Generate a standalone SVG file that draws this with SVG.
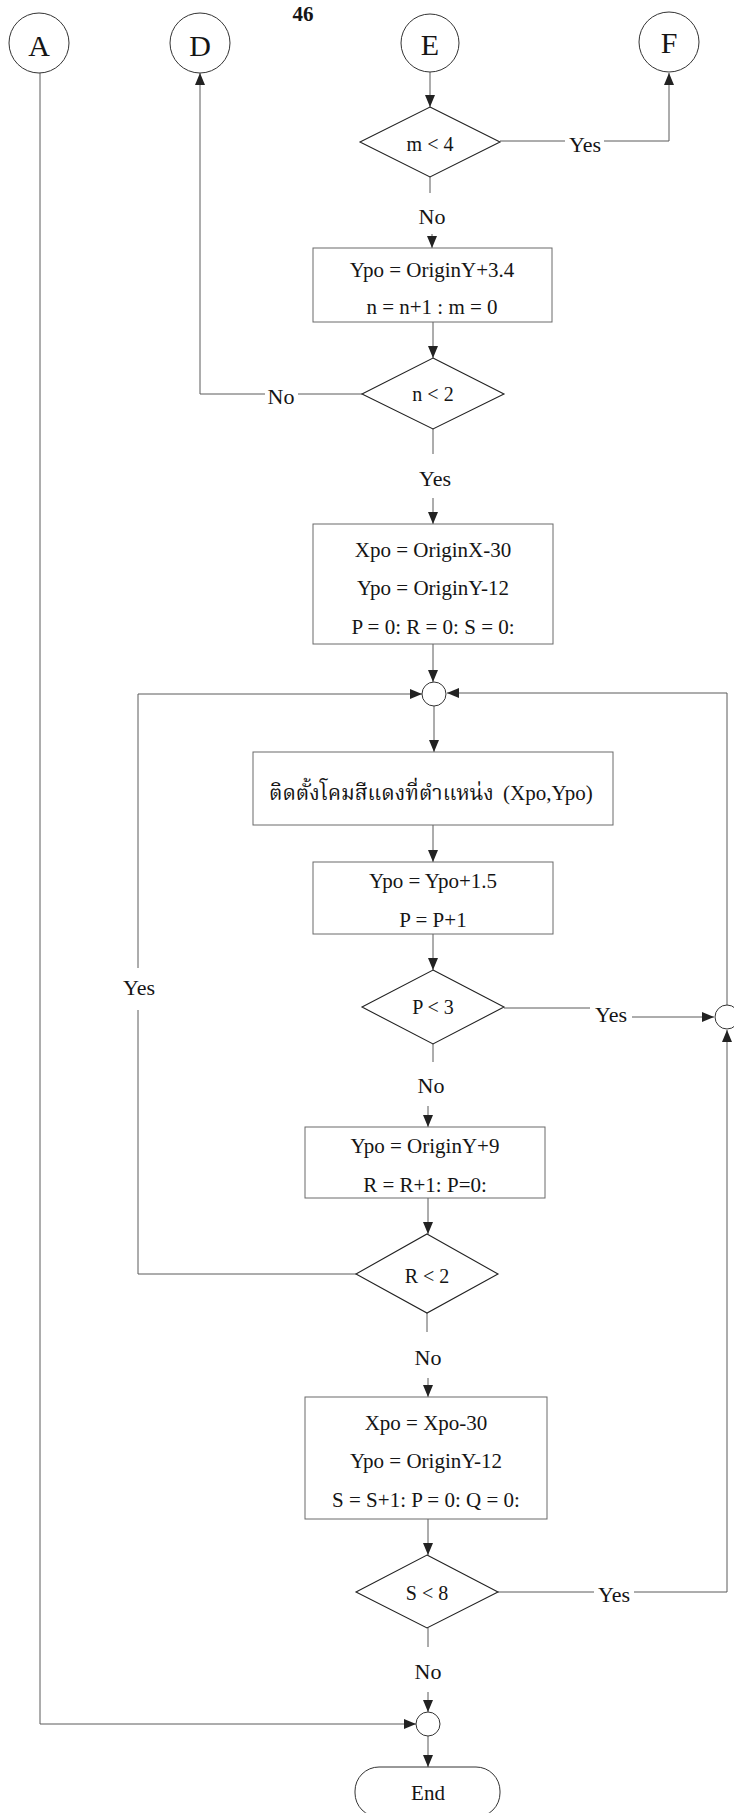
<svg xmlns="http://www.w3.org/2000/svg" width="734" height="1813" viewBox="0 0 734 1813">
  <style>
    text { font-family: "Liberation Serif", "Times New Roman", serif; fill: #151515; }
    .t { font-size: 21px; text-anchor: middle; }
    .q { font-size: 20px; text-anchor: middle; }
    .lbl { font-size: 22px; text-anchor: middle; }
    .conn { font-size: 30px; text-anchor: middle; }
    .pg { font-family: "Liberation Serif", serif; font-size: 21px; font-weight: bold; text-anchor: middle; }
    .th { font-family: "Liberation Serif", "Noto Serif Thai", "Noto Sans Thai", "Tlwg Typo", "Loma", "Garuda", serif; font-size: 21px; }
    .box { fill: #ffffff; stroke: #6a6a6a; stroke-width: 1; }
    .dec { fill: #ffffff; stroke: #222; stroke-width: 1.1; }
    .circ { fill: #ffffff; stroke: #333; stroke-width: 1; }
    .edge { fill: none; stroke: #5a5a5a; stroke-width: 1; }
  </style>
  <defs>
    <marker id="arrow" markerUnits="userSpaceOnUse" markerWidth="12" markerHeight="10" refX="12" refY="5" orient="auto">
      <path d="M0,0 L12,5 L0,10 z" fill="#222"/>
    </marker>
  </defs>

  <rect width="734" height="1813" fill="#ffffff"/>

  <!-- page number -->
  <text class="pg" x="303" y="21">46</text>

  <!-- connectors -->
  <g id="connectors">
    <!-- E to m<4 -->
    <path class="edge" d="M430,72 L430,107" marker-end="url(#arrow)"/>
    <!-- m<4 Yes to F -->
    <path class="edge" d="M500,141 L565,141"/>
    <path class="edge" d="M604,141 L669,141 L669,73" marker-end="url(#arrow)"/>
    <!-- m<4 No -->
    <path class="edge" d="M430,177 L430,193"/>
    <path class="edge" d="M432,234 L432,248" marker-end="url(#arrow)"/>
    <!-- box1 to n<2 -->
    <path class="edge" d="M433,322 L433,358" marker-end="url(#arrow)"/>
    <!-- n<2 No to D -->
    <path class="edge" d="M362,394 L298,394"/>
    <path class="edge" d="M265,394 L200,394 L200,73" marker-end="url(#arrow)"/>
    <!-- n<2 Yes -->
    <path class="edge" d="M433,429 L433,454"/>
    <path class="edge" d="M433,498 L433,524" marker-end="url(#arrow)"/>
    <!-- box2 to J1 -->
    <path class="edge" d="M433,644 L433,682" marker-end="url(#arrow)"/>
    <!-- J1 to box3 -->
    <path class="edge" d="M434,706 L434,752" marker-end="url(#arrow)"/>
    <!-- box3 to box4 -->
    <path class="edge" d="M433,825 L433,862" marker-end="url(#arrow)"/>
    <!-- box4 to P<3 -->
    <path class="edge" d="M433,934 L433,970" marker-end="url(#arrow)"/>
    <!-- P<3 Yes to J2 -->
    <path class="edge" d="M504,1008 L590,1008"/>
    <path class="edge" d="M632,1017 L714,1017" marker-end="url(#arrow)"/>
    <!-- P<3 No -->
    <path class="edge" d="M433,1044 L433,1062"/>
    <path class="edge" d="M428,1106 L428,1127" marker-end="url(#arrow)"/>
    <!-- box5 to R<2 -->
    <path class="edge" d="M428,1198 L428,1234" marker-end="url(#arrow)"/>
    <!-- R<2 Yes back to J1 -->
    <path class="edge" d="M356,1274 L138,1274 L138,1010"/>
    <path class="edge" d="M138,968 L138,694 L422,694" marker-end="url(#arrow)"/>
    <!-- R<2 No -->
    <path class="edge" d="M427,1313 L427,1332"/>
    <path class="edge" d="M428,1378 L428,1397" marker-end="url(#arrow)"/>
    <!-- box6 to S<8 -->
    <path class="edge" d="M428,1519 L428,1555" marker-end="url(#arrow)"/>
    <!-- S<8 Yes up to J2 -->
    <path class="edge" d="M498,1592 L594,1592"/>
    <path class="edge" d="M634,1592 L727,1592 L727,1030" marker-end="url(#arrow)"/>
    <!-- J2 back to J1 -->
    <path class="edge" d="M727,1005 L727,693 L447,693" marker-end="url(#arrow)"/>
    <!-- S<8 No -->
    <path class="edge" d="M428,1628 L428,1647"/>
    <path class="edge" d="M428,1692 L428,1712" marker-end="url(#arrow)"/>
    <!-- A to J3 -->
    <path class="edge" d="M40,73 L40,1724 L416,1724" marker-end="url(#arrow)"/>
    <!-- J3 to End -->
    <path class="edge" d="M428,1736 L428,1767" marker-end="url(#arrow)"/>
  </g>

  <!-- connector labels -->
  <g id="labels">
    <text class="lbl" x="585" y="152">Yes</text>
    <text class="lbl" x="432" y="224">No</text>
    <text class="lbl" x="281" y="404">No</text>
    <text class="lbl" x="435" y="486">Yes</text>
    <text class="lbl" x="611" y="1022">Yes</text>
    <text class="lbl" x="431" y="1093">No</text>
    <text class="lbl" x="139" y="995">Yes</text>
    <text class="lbl" x="428" y="1365">No</text>
    <text class="lbl" x="614" y="1602">Yes</text>
    <text class="lbl" x="428" y="1679">No</text>
  </g>

  <!-- off-page connectors -->
  <g id="node-A">
    <circle class="circ" cx="39" cy="43" r="30"/>
    <text class="conn" x="39" y="56">A</text>
  </g>
  <g id="node-D">
    <circle class="circ" cx="200" cy="43" r="30"/>
    <text class="conn" x="200" y="56">D</text>
  </g>
  <g id="node-E">
    <circle class="circ" cx="430" cy="43" r="29"/>
    <text class="conn" x="430" y="55">E</text>
  </g>
  <g id="node-F">
    <circle class="circ" cx="669" cy="42" r="30"/>
    <text class="conn" x="669" y="53">F</text>
  </g>

  <!-- decision m<4 -->
  <g id="dec-m4">
    <polygon class="dec" points="430,107 500,142 430,177 360,142"/>
    <text class="q" x="430" y="151">m &lt; 4</text>
  </g>

  <!-- process: Ypo/n/m -->
  <g id="box-1">
    <rect class="box" x="313" y="248" width="239" height="74"/>
    <text class="t" x="432" y="277">Ypo = OriginY+3.4</text>
    <text class="t" x="432" y="314">n = n+1 : m = 0</text>
  </g>

  <!-- decision n<2 -->
  <g id="dec-n2">
    <polygon class="dec" points="433,358 504,394 433,429 362,394"/>
    <text class="q" x="433" y="401">n &lt; 2</text>
  </g>

  <!-- initialisation -->
  <g id="box-2">
    <rect class="box" x="313" y="524" width="240" height="120"/>
    <text class="t" x="433" y="557">Xpo = OriginX-30</text>
    <text class="t" x="433" y="595">Ypo = OriginY-12</text>
    <text class="t" x="433" y="634">P = 0: R = 0: S = 0:</text>
  </g>

  <!-- junction J1 -->
  <g id="junction-1">
    <circle class="circ" cx="434" cy="694" r="12"/>
  </g>

  <!-- install red lamp -->
  <g id="box-3">
    <rect class="box" x="253" y="752" width="360" height="73"/>
    <text class="th" x="269" y="800">ติดตั้งโคมสีแดงที่ตำแหน่ง <tspan x="503">(Xpo,Ypo)</tspan></text>
  </g>

  <!-- step Y -->
  <g id="box-4">
    <rect class="box" x="313" y="862" width="240" height="72"/>
    <text class="t" x="433" y="888">Ypo = Ypo+1.5</text>
    <text class="t" x="433" y="927">P = P+1</text>
  </g>

  <!-- decision P<3 -->
  <g id="dec-p3">
    <polygon class="dec" points="433,970 504,1007 433,1044 362,1007"/>
    <text class="q" x="433" y="1014">P &lt; 3</text>
  </g>

  <!-- junction J2 -->
  <g id="junction-2">
    <circle class="circ" cx="727" cy="1017" r="12"/>
  </g>

  <!-- next row -->
  <g id="box-5">
    <rect class="box" x="305" y="1127" width="240" height="71"/>
    <text class="t" x="425" y="1153">Ypo = OriginY+9</text>
    <text class="t" x="425" y="1192">R = R+1: P=0:</text>
  </g>

  <!-- decision R<2 -->
  <g id="dec-r2">
    <polygon class="dec" points="427,1234 498,1274 427,1313 356,1274"/>
    <text class="q" x="427" y="1283">R &lt; 2</text>
  </g>

  <!-- next column -->
  <g id="box-6">
    <rect class="box" x="305" y="1397" width="242" height="122"/>
    <text class="t" x="426" y="1430">Xpo = Xpo-30</text>
    <text class="t" x="426" y="1468">Ypo = OriginY-12</text>
    <text class="t" x="426" y="1507">S = S+1: P = 0: Q = 0:</text>
  </g>

  <!-- decision S<8 -->
  <g id="dec-s8">
    <polygon class="dec" points="427,1555 498,1592 427,1628 356,1592"/>
    <text class="q" x="427" y="1600">S &lt; 8</text>
  </g>

  <!-- junction J3 -->
  <g id="junction-3">
    <circle class="circ" cx="428" cy="1724" r="12"/>
  </g>

  <!-- terminator -->
  <g id="node-end">
    <rect class="circ" x="355" y="1767" width="145" height="50" rx="24" ry="24"/>
    <text class="t" x="428" y="1800">End</text>
  </g>
</svg>
